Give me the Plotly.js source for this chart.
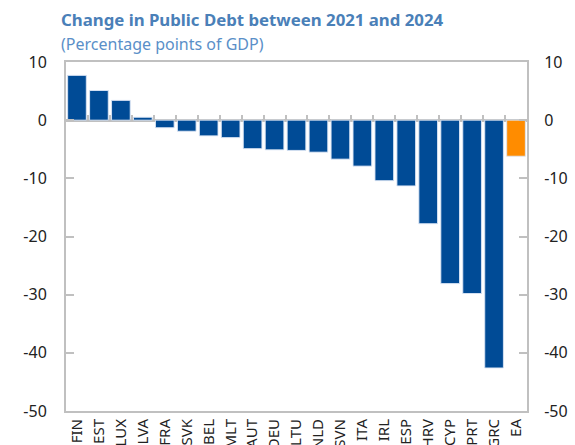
<!DOCTYPE html>
<html>
<head>
<meta charset="utf-8">
<script src="https://cdn.plot.ly/plotly-3.0.1.min.js"></script>
<style>html,body{margin:0;padding:0;background:#fff;}#chart{width:575px;height:445px;}</style>
</head>
<body>
<div id="chart"></div>
<script>
const countries = ["FIN","EST","LUX","LVA","FRA","SVK","BEL","MLT","AUT","DEU","LTU","NLD","SVN","ITA","IRL","ESP","HRV","CYP","PRT","GRC","EA"];
const debtChange = [7.7, 5.1, 3.4, 0.5, -1.3, -1.9, -2.7, -3.0, -4.9, -5.1, -5.2, -5.5, -6.7, -7.9, -10.4, -11.3, -17.8, -28.1, -29.8, -42.6, -6.2];
const barColors = countries.map(c => c === "EA" ? "#ff8c00" : "#004b96");
const yTicks = [10, 0, -10, -20, -30, -40, -50];
const yTickText = yTicks.map(v => String(v));
const titleText = "Change in Public Debt between 2021 and 2024";
const subtitleText = "(Percentage points of GDP)";

const boundaries = countries.slice(1).map((c, i) => i + 0.5);

const traces = [
  {
    type: "bar",
    x: countries,
    y: debtChange,
    marker: {color: barColors, line: {color: "rgba(220,230,245,0.9)", width: 1}},
    hoverinfo: "x+y"
  },
  {
    type: "scatter",
    x: [-0.5, countries.length - 0.5],
    y: [null, null],
    xaxis: "x2",
    yaxis: "y2",
    mode: "markers",
    marker: {opacity: 0},
    hoverinfo: "skip",
    showlegend: false
  }
];

const fam = "Noto Sans, Open Sans, sans-serif";
const tickFont = {family: fam, size: 16, color: "#222"};

const layout = {
  width: 575,
  height: 445,
  margin: {l: 66, r: 48, t: 62, b: 34},
  paper_bgcolor: "#fff",
  plot_bgcolor: "#fff",
  showlegend: false,
  bargap: 0.15,
  annotations: [
    {
      text: "<b>" + titleText + "</b>",
      xref: "paper", yref: "paper", x: 0, y: 1 + 43 / 349,
      xanchor: "left", yanchor: "middle", showarrow: false, xshift: -7,
      font: {family: fam, size: 16.8, color: "#4a80b8"}
    },
    {
      text: subtitleText,
      xref: "paper", yref: "paper", x: 0, y: 1 + 18 / 349,
      xanchor: "left", yanchor: "middle", showarrow: false, xshift: -7,
      font: {family: fam, size: 16, color: "#5a8fc8"}
    }
  ],
  xaxis: {
    type: "category",
    range: [-0.5, countries.length - 0.5],
    showgrid: false,
    zeroline: false,
    showline: true,
    linecolor: "#c0c0c0",
    linewidth: 2,
    mirror: true,
    ticks: "",
    tickangle: -90,
    tickfont: {family: fam, size: 15, color: "#222"},
    fixedrange: true
  },
  xaxis2: {
    overlaying: "x",
    anchor: "free",
    position: 50 / 60,
    side: "top",
    range: [-0.5, countries.length - 0.5],
    showgrid: false,
    zeroline: false,
    showline: false,
    showticklabels: false,
    tickmode: "array",
    tickvals: boundaries,
    ticks: "outside",
    ticklen: 5,
    tickwidth: 2,
    tickcolor: "#c0c0c0",
    fixedrange: true
  },
  yaxis: {
    range: [-50, 10],
    tickmode: "array",
    tickvals: yTicks,
    ticktext: yTickText,
    showgrid: false,
    zeroline: true,
    zerolinecolor: "#c0c0c0",
    zerolinewidth: 3,
    showline: true,
    linecolor: "#c0c0c0",
    linewidth: 2,
    ticks: "inside",
    ticklen: 8,
    tickwidth: 2,
    tickcolor: "#c0c0c0",
    tickfont: tickFont,
    ticklabelstandoff: 14,
    fixedrange: true
  },
  yaxis2: {
    overlaying: "y",
    side: "right",
    anchor: "x",
    range: [-50, 10],
    tickmode: "array",
    tickvals: yTicks,
    ticktext: yTickText,
    showgrid: false,
    zeroline: false,
    showline: true,
    linecolor: "#c0c0c0",
    linewidth: 2,
    ticks: "inside",
    ticklen: 8,
    tickwidth: 2,
    tickcolor: "#c0c0c0",
    tickfont: tickFont,
    ticklabelstandoff: 12,
    fixedrange: true
  }
};

Plotly.newPlot("chart", traces, layout, {displayModeBar: false, staticPlot: true});
</script>
</body>
</html>
